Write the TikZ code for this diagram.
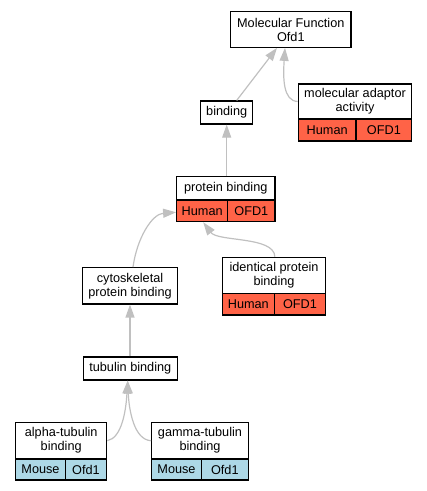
\documentclass[tikz,border=0pt]{standalone}
\usepackage{fontspec}
\setmainfont{Liberation Sans}
\usetikzlibrary{arrows.meta,calc}
\definecolor{humred}{RGB}{255,99,71}
\definecolor{mouseblue}{RGB}{173,216,230}
\definecolor{edgegray}{RGB}{192,192,192}
\tikzset{
  box/.style={draw=black, line width=1.2pt, fill=white, inner sep=0pt, align=center,
    font=\fontsize{12.7}{14}\selectfont},
  hcell/.style={box, fill=humred},
  mcell/.style={box, fill=mouseblue},
  edge/.style={draw=edgegray, line width=1.2pt, -{Triangle[length=13pt,width=9pt]}},
}
\begin{document}
\begin{tikzpicture}[x=1pt,y=-1pt]
\useasboundingbox (0,0) rectangle (427,491);
% Molecular Function
\node[box, minimum width=120.3pt, minimum height=35.6pt] (mf) at (290.8,29.5) {Molecular Function\\Ofd1};
% binding
\node[box, minimum width=52pt, minimum height=23pt] (bind) at (226.7,112.5) {binding};
% molecular adaptor activity
\node[box, minimum width=113.4pt, minimum height=35pt] (mad) at (355,101.5) {molecular adaptor\\activity};
\node[hcell, minimum width=57.7pt, minimum height=22pt] (madh) at (327.2,130) {Human};
\node[hcell, minimum width=55.7pt, minimum height=22pt] (mado) at (383.9,130) {OFD1};
% protein binding
\node[box, minimum width=98.3pt, minimum height=23.3pt] (pb) at (225.8,188.3) {protein binding};
\node[hcell, minimum width=51pt, minimum height=21.7pt] (pbh) at (202.2,210.8) {Human};
\node[hcell, minimum width=47.3pt, minimum height=21.7pt] (pbo) at (251.35,210.8) {OFD1};
% identical protein binding
\node[box, minimum width=103.4pt, minimum height=36pt] (ipb) at (274,275.3) {identical protein\\binding};
\node[hcell, minimum width=52pt, minimum height=21.7pt] (ipbh) at (248.3,304.2) {Human};
\node[hcell, minimum width=51.4pt, minimum height=21.7pt] (ipbo) at (300,304.2) {OFD1};
% cytoskeletal protein binding
\node[box, minimum width=94.6pt, minimum height=36.3pt] (cyto) at (130,285.8) {cytoskeletal\\protein binding};
% tubulin binding
\node[box, minimum width=94pt, minimum height=23pt] (tub) at (130.3,368.5) {tubulin binding};
% alpha-tubulin binding
\node[box, minimum width=91pt, minimum height=36.7pt] (alpha) at (61.2,440.7) {alpha-tubulin\\binding};
\node[mcell, minimum width=49.6pt, minimum height=21pt] (alpham) at (40.5,469.5) {Mouse};
\node[mcell, minimum width=41.4pt, minimum height=21pt] (alphao) at (86,469.5) {Ofd1};
% gamma-tubulin binding
\node[box, minimum width=96.6pt, minimum height=36.7pt] (gamma) at (200,440.7) {gamma-tubulin\\binding};
\node[mcell, minimum width=49.6pt, minimum height=21pt] (gammam) at (176.5,469.5) {Mouse};
\node[mcell, minimum width=47pt, minimum height=21pt] (gammao) at (224.8,469.5) {Ofd1};
% edges
\draw[edge] ([xshift=10pt]bind.north) -- ([xshift=-13.8pt]mf.south);
\draw[edge] (mad.west) .. controls (283,101) and (283,78) .. ([xshift=-5.8pt]mf.south);
\draw[edge] (bind.south |- pb.north) -- (bind.south);
\draw[edge] ([xshift=3pt]cyto.north) .. controls (137,238) and (152,214) .. ([yshift=-1.5pt]pbh.west);
\draw[edge] (ipbh.north east |- ipb.north) .. controls (274,236) and (218,242) .. ([xshift=1pt]pbh.south);
\draw[edge] (cyto.south |- tub.north) -- (cyto.south);
\draw[edge] (alpha.east) .. controls (122,438) and (126,410) .. ([xshift=-2.6pt]tub.south);
\draw[edge] (gamma.west) .. controls (134,440) and (129,410) .. ([xshift=-2.6pt]tub.south);
\end{tikzpicture}
\end{document}
